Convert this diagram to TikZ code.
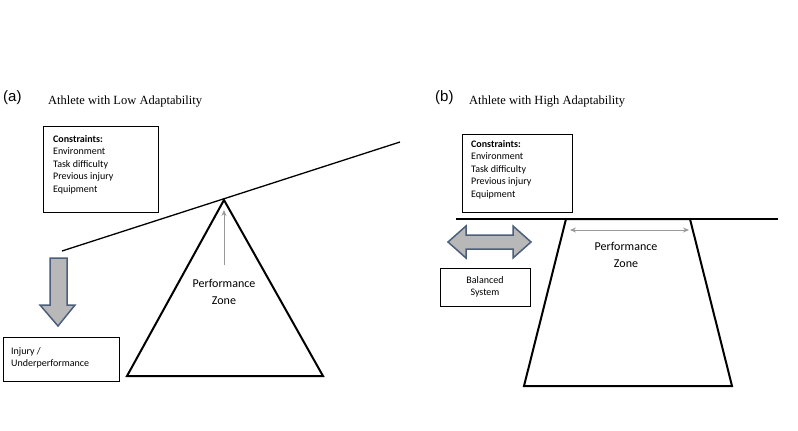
\documentclass[tikz,border=0pt]{standalone}
\usepackage{fontspec}
\setmainfont{Carlito}
\newfontfamily\ttl{Liberation Serif}
\newfontfamily\lab{Liberation Sans}
\usetikzlibrary{arrows.meta}
\definecolor{slate}{RGB}{75,95,125}
\begin{document}
\begin{tikzpicture}[x=1pt,y=-1pt,
  box/.style={draw,line width=0.8pt,inner sep=0pt},
  txt/.style={font=\fontsize{10}{12.5}\selectfont,align=left,anchor=north west,inner sep=0pt},
  heavy/.style={line width=2pt,line join=miter},
  thin/.style={draw=black!40,line width=0.8pt},
  blk/.style={draw=slate,line width=1.5pt,fill=black!28,line join=miter}]
\useasboundingbox[fill=white] (0,0) rectangle (798,431);
% panel a
\node[anchor=west,inner sep=0pt,font=\lab\fontsize{15}{17}\selectfont] (la) at (3,98) {(a)};
\node[anchor=west,inner sep=0pt,font=\ttl\fontsize{12.5}{14}\selectfont] (ta) at (48,102) {Athlete with Low Adaptability};
\node[box,minimum width=115,minimum height=86,anchor=north west] (ca) at (43,126) {};
\node[txt] (cat) at (53,135) {\textbf{Constraints:}\\Environment\\Task difficulty\\Previous injury\\Equipment};
\coordinate (b1) at (62,251); \coordinate (b2) at (400,142);
\draw[line width=1.3pt] (b1) -- (b2);
\draw[heavy] (224,200) coordinate (apex) -- (323,376) -- (127,376) -- cycle;
\coordinate (pa0) at (224,265); \coordinate (pa1) at (224,210);
\draw[thin,-{Stealth[length=6pt,width=5pt]}] (pa0) -- (pa1);
\node[font=\fontsize{12}{17}\selectfont,align=center] (pza) at (224,292) {Performance\\Zone};
\draw[blk]
  (50,258) -- (67,258) -- (67,305) -- (75,305) -- (58,326) -- (40,305) -- (50,305) -- cycle;
\node[box,minimum width=116,minimum height=44,anchor=north west] (ia) at (3,337) {};
\node[txt] (iat) at (11,347) {Injury /\\Underperformance};
% panel b
\node[anchor=west,inner sep=0pt,font=\lab\fontsize{15}{17}\selectfont] (lb) at (435,98) {(b)};
\node[anchor=west,inner sep=0pt,font=\ttl\fontsize{12.5}{14}\selectfont] (tb) at (469,102) {Athlete with High Adaptability};
\node[box,minimum width=110,minimum height=78,anchor=north west] (cb) at (462,134) {};
\node[txt] (cbt) at (471,140) {\textbf{Constraints:}\\Environment\\Task difficulty\\Previous injury\\Equipment};
\coordinate (h1) at (456,219); \coordinate (h2) at (778,219);
\draw[line width=1.3pt] (h1) -- (h2);
\draw[heavy] (566,219) -- (690,219) -- (732,386) -- (524,386) -- cycle;
\coordinate (pb0) at (570,230); \coordinate (pb1) at (689,230);
\draw[thin,{Stealth[length=6pt,width=5pt]}-{Stealth[length=6pt,width=5pt]}] (pb0) -- (pb1);
\node[font=\fontsize{12}{17}\selectfont,align=center] (pzb) at (626,255) {Performance\\Zone};
\draw[blk]
  (448,242) -- (466,226) -- (466,235) -- (513,235) -- (513,226) -- (531,242) -- (513,258) -- (513,249) -- (466,249) -- (466,258) -- cycle;
\node[box,minimum width=90,minimum height=38,anchor=north west] (bs) at (440,268) {};
\node[font=\fontsize{10}{12.5}\selectfont,align=center] (bst) at (485,287) {Balanced\\System};
\end{tikzpicture}
\end{document}
